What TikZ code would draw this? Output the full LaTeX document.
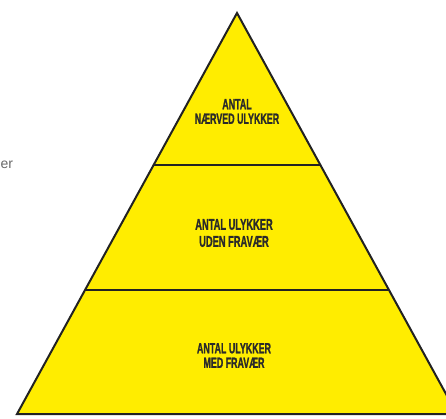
\documentclass[tikz,border=0pt]{standalone}
\usepackage{fontspec}
\setmainfont{Liberation Sans}
\newfontfamily\heavyfont{Liberation Sans}[BoldFeatures={FakeBold=1.6}]
\usepackage{graphicx}
\definecolor{pyryellow}{HTML}{FFED00}
\definecolor{pyrline}{HTML}{222222}
\definecolor{pyrtext}{HTML}{2A2A2A}
\definecolor{sidegray}{HTML}{6A6A6A}
\newcommand\cnd[1]{\scalebox{0.6}[1]{#1}}
\tikzset{
  layerfill/.style={fill=pyryellow},
  edgeline/.style={draw=pyrline, line width=2pt, line join=miter},
  sepline/.style={draw=pyrline, line width=2pt},
  lbl/.style={text=pyrtext, align=center, inner sep=0pt, font=\heavyfont\fontsize{14.8}{14.5}\selectfont\bfseries},
  lblbig/.style={lbl, font=\heavyfont\fontsize{15.5}{17}\selectfont\bfseries},
  side/.style={text=sidegray, inner sep=0pt, font=\fontsize{14}{16}\selectfont}
}
\begin{document}
\begin{tikzpicture}[x=1pt,y=-1pt]
\useasboundingbox (0,0) rectangle (446,418);
\clip (0,0) rectangle (446,418);
\fill[white] (0,0) rectangle (446,418);
\coordinate (apex) at (237,13);
\coordinate (bl) at (17,414);
\coordinate (br) at (457,414);
\fill[layerfill] (apex) -- (bl) -- (br) -- cycle;
\coordinate (l1) at (153.6,165);
\coordinate (r1) at (320.4,165);
\coordinate (l2) at (85,290);
\coordinate (r2) at (389,290);
\draw[sepline] (l1) -- (r1);
\draw[sepline] (l2) -- (r2);
\draw[edgeline] (apex) -- (bl) -- (br) -- cycle;
\node[lbl] (top) at (237,111.5) {\cnd{ANTAL}\\\cnd{NÆRVED ULYKKER}};
\node[lblbig] (mid) at (234,233) {\cnd{ANTAL ULYKKER}\\\cnd{UDEN FRAVÆR}};
\node[lbl] (bot) at (234,355.5) {\cnd{ANTAL ULYKKER}\\\cnd{MED FRAVÆR}};
\node[side, anchor=base west] (er) at (0.5,168) {er};
\end{tikzpicture}
\end{document}
